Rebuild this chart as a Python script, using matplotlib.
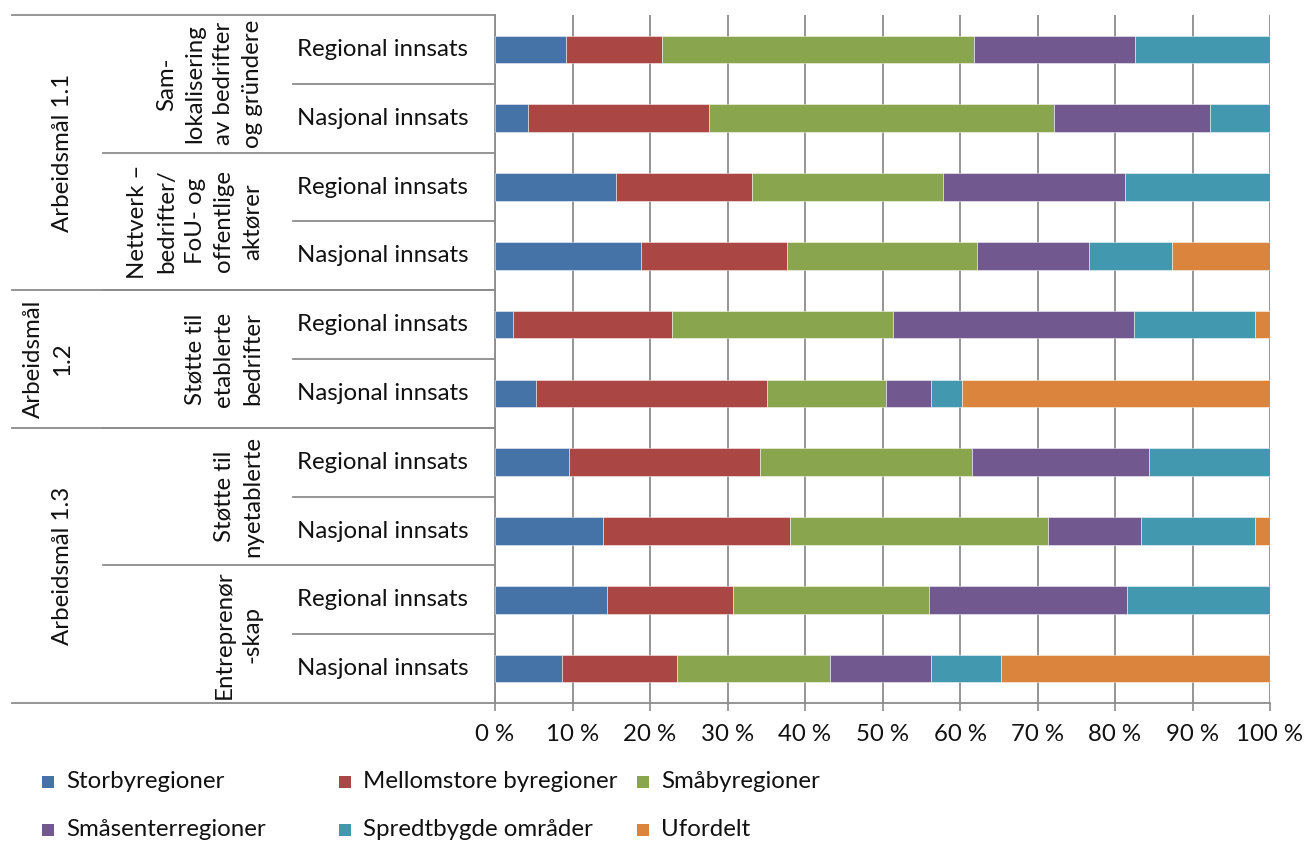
import matplotlib
matplotlib.use("Agg")
import matplotlib.pyplot as plt
from matplotlib.lines import Line2D
from matplotlib.patches import Rectangle
import numpy as np

plt.rcParams['font.family'] = ['Lato', 'DejaVu Sans']

# ---------------- data ----------------
series = ["Storbyregioner", "Mellomstore byregioner", "Småbyregioner",
          "Småsenterregioner", "Spredtbygde områder", "Ufordelt"]
colors = ["#4572A7", "#AA4643", "#89A54E", "#71588F", "#4198AF", "#DB843D"]

bar_labels = ["Regional innsats", "Nasjonal innsats"] * 5

storby      = [9.2, 4.2, 15.6, 18.8, 2.3, 5.3, 9.6, 13.9, 14.4, 8.7]
mellomstore = [12.3, 23.4, 17.5, 18.9, 20.6, 29.8, 24.6, 24.1, 16.3, 14.8]
smaaby      = [40.3, 44.5, 24.7, 24.5, 28.5, 15.3, 27.4, 33.3, 25.3, 19.7]
smaasenter  = [20.8, 20.2, 23.5, 14.4, 31.0, 5.9, 22.8, 12.1, 25.5, 13.1]
spredt      = [17.4, 7.7, 18.7, 10.8, 15.7, 3.9, 15.6, 14.7, 18.5, 9.0]
ufordelt    = [0.0, 0.0, 0.0, 12.6, 1.9, 39.8, 0.0, 1.9, 0.0, 34.7]

# second level groups: (label, first bar index, last bar index)
level2 = [("Sam-\nlokalisering\nav bedrifter\nog gründere", 0, 1),
          ("Nettverk –\nbedrifter/\nFoU- og\noffentlige\naktører", 2, 3),
          ("Støtte til\netablerte\nbedrifter", 4, 5),
          ("Støtte til\nnyetablerte", 6, 7),
          ("Entreprenør\n-skap", 8, 9)]
# top level groups
level1 = [("Arbeidsmål 1.1", 0, 3),
          ("Arbeidsmål\n1.2", 4, 5),
          ("Arbeidsmål 1.3", 6, 9)]

xticks = [0, 10, 20, 30, 40, 50, 60, 70, 80, 90, 100]
xticklabels = [f"{v} %" for v in xticks]

# ---------------- figure ----------------
W, H = 1307, 842
FS = 17.3
TXT = "#111111"
fig = plt.figure(figsize=(W / 100, H / 100), dpi=100)

def fx(px):
    return px / W

def fy(py):
    return 1 - py / H

ax_l, ax_r, ax_t, ax_b = 495, 1270, 15, 703
ax = fig.add_axes([fx(ax_l), fy(ax_b), fx(ax_r - ax_l), (ax_b - ax_t) / H])

data = np.array([storby, mellomstore, smaaby, smaasenter, spredt, ufordelt])
n = data.shape[1]
y = np.arange(n)
left = np.zeros(n)
for vals, col in zip(data, colors):
    ax.barh(y, vals, left=left, height=0.4, color=col,
            edgecolor=(1, 1, 1, 0.55), linewidth=0.6, zorder=3)
    left += vals

ax.set_xlim(0, 100)
ax.set_ylim(n - 0.5, -0.5)
grid_c = "#8c8c8c"
ax.set_xticks(xticks)
ax.set_xticklabels(xticklabels, fontsize=FS, color=TXT)
ax.tick_params(axis='x', length=6, width=1.2, color=grid_c, pad=9)
ax.set_yticks([])
ax.xaxis.grid(True, color=grid_c, linewidth=1.3, zorder=0)
ax.set_axisbelow(True)
for s in ["top", "right"]:
    ax.spines[s].set_visible(False)
for s in ["left", "bottom"]:
    ax.spines[s].set_color(grid_c)
    ax.spines[s].set_linewidth(1.3)

# ---------------- category hierarchy ----------------
slot = (ax_b - ax_t) / n

def ypx(i):
    return ax_t + i * slot

line_kw = dict(color=grid_c, linewidth=1.3, transform=fig.transFigure)

# third level labels and separators
for i, lab in enumerate(bar_labels):
    yc = ypx(i + 0.5)
    fig.text(fx(383), fy(yc), lab, ha='center', va='center', fontsize=FS,
             color=TXT)
for i in range(1, n, 2):
    fig.add_artist(Line2D([fx(293), fx(ax_l)], [fy(ypx(i))] * 2, **line_kw))

# second level
for lab, a, b in level2:
    yc = (ypx(a) + ypx(b + 1)) / 2
    fig.text(fx(263), fy(yc), lab, rotation=90, ha='right', va='center',
             multialignment='center', fontsize=FS, color=TXT,
             linespacing=1.45)
for lab, a, b in level2:
    if b + 1 < n:
        fig.add_artist(Line2D([fx(103), fx(ax_l)], [fy(ypx(b + 1))] * 2, **line_kw))

# top level
for lab, a, b in level1:
    yc = (ypx(a) + ypx(b + 1)) / 2
    fig.text(fx(73), fy(yc), lab, rotation=90, ha='right', va='center',
             multialignment='center', fontsize=FS, color=TXT,
             linespacing=1.45)
bounds = [0] + [b + 1 for _, _, b in level1]
for bnd in bounds:
    fig.add_artist(Line2D([fx(12), fx(ax_l)], [fy(ypx(bnd))] * 2, **line_kw))

# ---------------- legend ----------------
leg_pos = [(48, 782), (345, 782), (643, 782), (48, 830), (345, 830), (643, 830)]
sq = 12
for (px, py), lab, col in zip(leg_pos, series, colors):
    fig.add_artist(Rectangle((fx(px - sq / 2), fy(py + sq / 2)), sq / W, sq / H,
                             facecolor=col, edgecolor='none',
                             transform=fig.transFigure))
    fig.text(fx(px + 18), fy(py), lab, ha='left', va='center', fontsize=FS,
             color=TXT)

fig.savefig("out.png", dpi=100, facecolor="white")
